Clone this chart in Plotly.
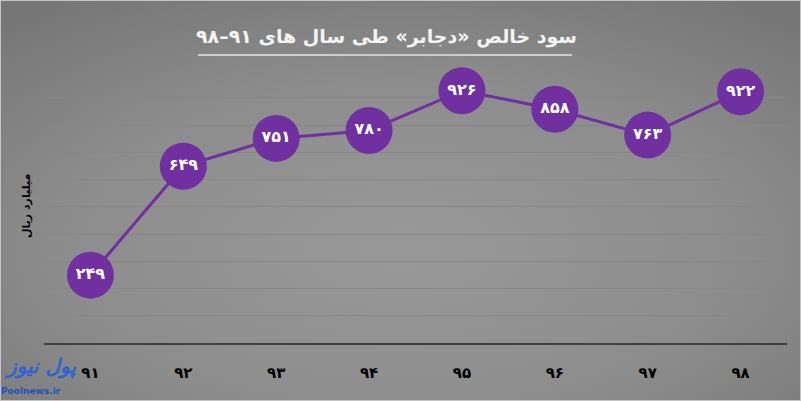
import base64
import plotly.graph_objects as go

years = ["۹۱", "۹۲", "۹۳", "۹۴", "۹۵", "۹۶", "۹۷", "۹۸"]
profit = [249, 649, 751, 780, 926, 858, 763, 922]
profit_labels = ["۲۴۹", "۶۴۹", "۷۵۱", "۷۸۰", "۹۲۶", "۸۵۸", "۷۶۳", "۹۲۲"]

title_text = "سود خالص «دجابر» طی سال های ۹۱–۹۸"
ytitle_text = "میلیارد ریال"

W, H = 801, 401
L, R, T, B = 44, 14, 70, 58
PW, PH = W - L - R, H - T - B


def px_x(px):
    return (px - L) / PW


def px_y(py):
    return (H - B - py) / PH


svg = f"""<svg xmlns='http://www.w3.org/2000/svg' width='{W}' height='{H}' viewBox='0 0 {W} {H}'>
<defs><radialGradient id='g' cx='50%' cy='62%' r='75%'>
<stop offset='0%' stop-color='#999999'/>
<stop offset='55%' stop-color='#8d8d8d'/>
<stop offset='100%' stop-color='#767676'/>
</radialGradient></defs>
<rect x='0' y='0' width='{W}' height='{H}' fill='url(#g)'/>
<rect x='0.5' y='0.5' width='{W-1}' height='{H-1}' fill='none' stroke='#c4c4c4' stroke-width='1'/>
</svg>"""
bg_uri = "data:image/svg+xml;base64," + base64.b64encode(svg.encode()).decode()

fig = go.Figure()
fig.add_trace(go.Scatter(
    x=years, y=profit, text=profit_labels,
    mode="lines+markers+text",
    line=dict(color="#7030a0", width=3),
    marker=dict(size=47, color="#7030a0"),
    textposition="middle center",
    textfont=dict(family="DejaVu Sans", size=16, color="white", weight="bold"),
    hoverinfo="skip",
    cliponaxis=False,
))

fig.update_layout(
    width=W, height=H,
    margin=dict(l=L, r=R, t=T, b=B),
    paper_bgcolor="rgba(0,0,0,0)",
    plot_bgcolor="rgba(0,0,0,0)",
    showlegend=False,
    images=[dict(source=bg_uri, xref="paper", yref="paper",
                 x=px_x(0), y=px_y(0), sizex=W / PW, sizey=H / PH,
                 xanchor="left", yanchor="top", sizing="stretch", layer="below")],
    xaxis=dict(
        type="category", range=[-0.5, 7.5],
        showgrid=False, showline=True, linecolor="#404040", linewidth=2,
        ticks="outside", ticklen=15, tickcolor="rgba(0,0,0,0)",
        tickfont=dict(family="DejaVu Sans", size=15, color="black", weight="bold"),
        fixedrange=True,
    ),
    yaxis=dict(
        range=[0, 1002], dtick=100, tick0=0,
        showgrid=True, gridcolor="#878787", gridwidth=1,
        zeroline=False, showticklabels=False, showline=False,
        fixedrange=True,
    ),
    annotations=[
        dict(text=title_text, xref="paper", yref="paper", x=px_x(386), y=px_y(37),
             showarrow=False, xanchor="center", yanchor="middle",
             font=dict(family="DejaVu Sans", size=19, color="#f4f4f4", weight="bold")),
        dict(text=ytitle_text, xref="paper", yref="paper", x=px_x(26), y=px_y(206),
             showarrow=False, textangle=-90, xanchor="center", yanchor="middle",
             font=dict(family="DejaVu Sans", size=11, color="black", weight="bold")),
        dict(text="پول نیوز", xref="paper", yref="paper", x=px_x(40), y=px_y(366),
             showarrow=False, xanchor="center", yanchor="middle",
             font=dict(family="DejaVu Sans", size=20, color="#2f63cf", style="italic", weight="bold")),
        dict(text="Poolnews.ir", xref="paper", yref="paper", x=px_x(31), y=px_y(391),
             showarrow=False, xanchor="center", yanchor="middle",
             font=dict(family="DejaVu Sans", size=9, color="#2050c0", weight="bold")),
    ],
    shapes=[
        dict(type="line", xref="paper", yref="paper",
             x0=px_x(198), x1=px_x(572), y0=px_y(55), y1=px_y(55),
             line=dict(color="#e6e6e6", width=1.5)),
    ],
)

fig.write_html("out.html", config={"displayModeBar": False},
               post_script="document.body.style.margin='0px';document.body.style.padding='0px';")
